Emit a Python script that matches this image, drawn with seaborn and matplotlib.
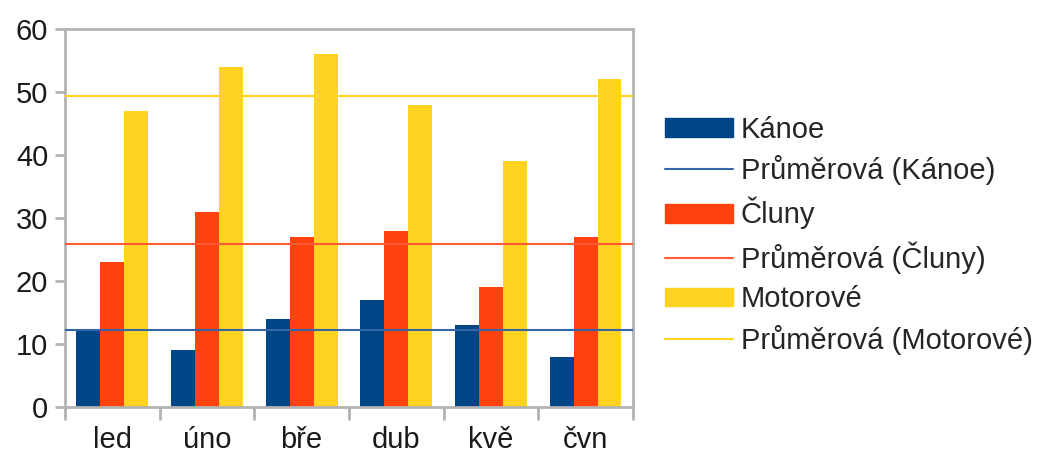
import matplotlib
matplotlib.use("Agg")
import matplotlib.pyplot as plt
import seaborn as sns
import pandas as pd
import numpy as np
from matplotlib.patches import Patch
from matplotlib.lines import Line2D

months = ["led", "úno", "bře", "dub", "kvě", "čvn"]
series_names = ["Kánoe", "Čluny", "Motorové"]
kanoe = [12, 9, 14, 17, 13, 8]
cluny = [23, 31, 27, 28, 19, 27]
motorove = [47, 54, 56, 48, 39, 52]
y_ticks = [0, 10, 20, 30, 40, 50, 60]

bar_colors = ["#004586", "#ff420e", "#ffd320"]
line_colors = ["#3465a4", "#ff5a36", "#ffd320"]

sns.set_theme(style="white")
plt.rcParams["font.family"] = ["Liberation Sans", "DejaVu Sans"]

df = pd.DataFrame({
    "month": months * 3,
    "series": [series_names[0]] * 6 + [series_names[1]] * 6 + [series_names[2]] * 6,
    "value": kanoe + cluny + motorove,
})

fig = plt.figure(figsize=(10.4, 4.55), dpi=100)
ax = fig.add_axes([0.0625, 0.1055, 0.546, 0.831])

sns.barplot(data=df, x="month", y="value", hue="series", order=months,
            hue_order=series_names, palette=bar_colors, width=0.76,
            saturation=1, ax=ax, legend=False, errorbar=None, linewidth=0)

means = [np.mean(kanoe), np.mean(cluny), np.mean(motorove)]
for m, c in zip(means, line_colors):
    ax.axhline(m, color=c, lw=1.5, zorder=3)

ax.set_xlim(-0.5, 5.5)
ax.set_ylim(0, 60)
ax.set_yticks(y_ticks)
ax.set_xlabel("")
ax.set_ylabel("")

for s in ax.spines.values():
    s.set_color("#b3b3b3")
    s.set_linewidth(2)

ax.set_xticks(np.arange(-0.5, 6.0, 1.0), minor=True)
ax.tick_params(axis="x", which="major", length=0, pad=14, labelsize=21, colors="#1a1a1a")
ax.tick_params(axis="x", which="minor", length=9, width=2, color="#b3b3b3", bottom=True)
ax.tick_params(axis="y", which="major", length=7, width=2, color="#b3b3b3", left=True,
               pad=5, labelsize=21, labelcolor="#1a1a1a")

handles = []
labels = []
for name, bc, lc in zip(series_names, bar_colors, line_colors):
    handles.append(Patch(facecolor=bc, edgecolor=bc))
    labels.append(name)
    handles.append(Line2D([0], [0], color=lc, lw=1.5))
    labels.append(f"Průměrová ({name})")

fig.legend(handles, labels, loc="center left", bbox_to_anchor=(0.628, 0.483),
           frameon=False, fontsize=21, handlelength=2.35, handleheight=0.62,
           handletextpad=0.25, labelspacing=0.4, borderaxespad=0)

fig.savefig("out.png", dpi=100)
